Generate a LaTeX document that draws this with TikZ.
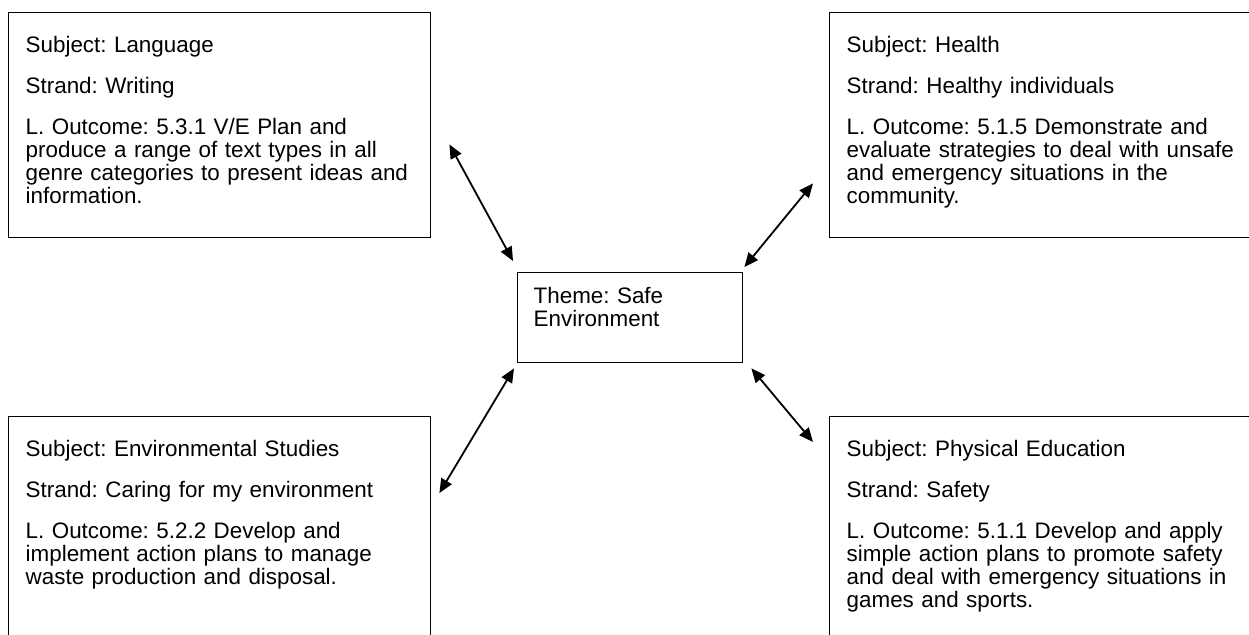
\documentclass[tikz,border=0pt]{standalone}
\usepackage{fontspec}
\setmainfont{Liberation Sans}
\usetikzlibrary{arrows.meta}
\frenchspacing

\begin{document}
\begin{tikzpicture}[
        x=0.5pt, y=-0.5pt, % one unit is one pixel, y grows downwards
        font=\fontsize{11.2}{11.5}\selectfont,
        card/.style = {draw, line width=0.7pt, anchor=north west, align=left,
                text width=194pt, inner xsep=8.5pt, inner ysep=0pt,
                text height=20pt, text depth=92.5pt}, % subject boxes
        theme/.style = {draw, line width=0.7pt, anchor=north west, align=left,
                text width=96.5pt, inner xsep=8pt, inner ysep=0pt,
                text height=15.5pt, text depth=29.5pt}, % centre box
        link/.style = {{Triangle[length=7pt,width=6pt]}-{Triangle[length=7pt,width=6pt]}, line width=0.9pt},
    ]
    \useasboundingbox (0,0) rectangle (1249,635);
    \clip (0,0) rectangle (1249,635);

    \node[theme] (centre) at (517,272) {Theme: Safe\\Environment};

    \node[card] (lang) at (8,12) {Subject: Language\\[9pt]
        Strand: Writing\\[9pt]
        L. Outcome: 5.3.1 V/E Plan and\\produce a range of text types in all\\genre categories to present ideas and\\information.};
    \node[card] (health) at (829,12) {Subject: Health\\[9pt]
        Strand: Healthy individuals\\[9pt]
        L. Outcome: 5.1.5 Demonstrate and\\evaluate strategies to deal with unsafe\\and emergency situations in the\\community.};
    \node[card] (env) at (8,416) {Subject: Environmental Studies\\[9pt]
        Strand: Caring for my environment\\[9pt]
        L. Outcome: 5.2.2 Develop and\\implement action plans to manage\\waste production and disposal.};
    \node[card] (pe) at (829,416) {Subject: Physical Education\\[9pt]
        Strand: Safety\\[9pt]
        L. Outcome: 5.1.1 Develop and apply\\simple action plans to promote safety\\and deal with emergency situations in\\games and sports.};

    % arrows between the boxes
    \draw[link] ([shift={(18,-94)}]lang.south east) -- ([shift={(-4,-11)}]centre.north west);
    \draw[link] ([shift={(1,-5)}]centre.north east) -- ([shift={(-16,-55)}]health.south west);
    \draw[link] ([shift={(8,77)}]env.north east) -- ([shift={(-3,5)}]centre.south west);
    \draw[link] ([shift={(8,5)}]centre.south east) -- ([shift={(-16,26)}]pe.north west);
\end{tikzpicture}
\end{document}
